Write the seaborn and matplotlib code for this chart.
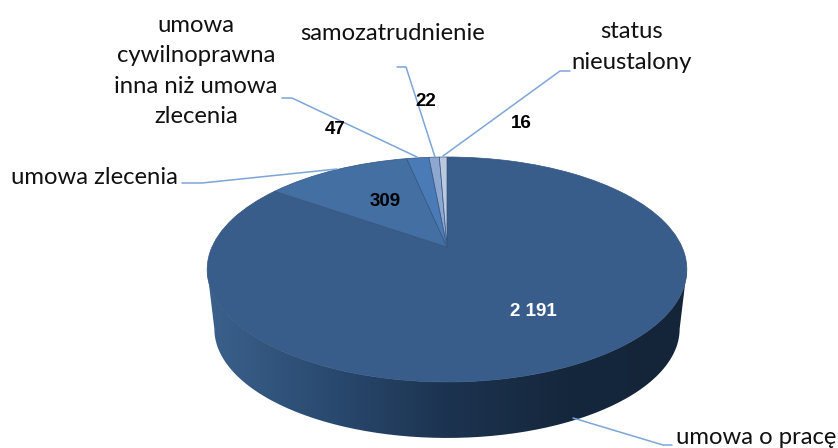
import numpy as np
import matplotlib
matplotlib.use("Agg")
import matplotlib.pyplot as plt
import seaborn as sns
from matplotlib.patches import PathPatch
from matplotlib.path import Path
from matplotlib.transforms import Transform

# Data

categories = ["umowa o pracę", "umowa zlecenia", "umowa cywilnoprawna inna niż umowa zlecenia",
              "samozatrudnienie", "status nieustalony"]
values = [2191, 309, 47, 22, 16]
slice_colors = ["#395d8a", "#436fa3", "#4a7bb6", "#8ea7d0", "#bcc8de"]

category_text = ["umowa o pracę", "umowa zlecenia", "umowa\ncywilnoprawna\ninna niż umowa\nzlecenia",
                 "samozatrudnienie", "status\nnieustalony"]
value_text = [f"{v:,}".replace(",", " ") for v in values]

wall_colors = ["#3b618c", "#2a4a70", "#1c3350", "#15273c", "#14253a"]
leader_color = "#7da6d8"

# Pixel positions on the 838x448 canvas

label_pos = [(756, 438), (94, 177), (196, 71), (393, 33), (632, 47)]
value_pos = [(533, 311), (385, 201), (335, 130), (426, 101), (521, 123)]
value_colors = ["white", "black", "black", "black", "black"]
leaders = [
    [(573, 418), (663, 445), (672, 445)],
    [(182, 183), (202, 183), (337, 169)],
    [(282, 98), (292, 98), (417, 157)],
    [(397, 67), (406, 67), (435, 157)],
    [(570, 71), (560, 71), (443, 156)],
]

APEX_X, APEX_Y = 447, 247
SCALE_X, SCALE_Y, TILT = 235, 108, 0.2
WALL_SCALE, WALL_DROP = 0.97, 60


# Unit circle pie -> tilted disc in pixels

def project(xy, scale=1.0, drop=0):
    x, y = xy[:, 0], xy[:, 1]
    w = 1 + TILT * y
    return np.column_stack([APEX_X + scale * SCALE_X * x / w,
                            APEX_Y + drop - scale * SCALE_Y * y / w])


class TiltedDisc(Transform):
    input_dims = 2
    output_dims = 2

    def transform_non_affine(self, values):
        return project(np.asarray(values))


sns.set_theme(style="white")
plt.rcParams["font.family"] = ["Lato", "DejaVu Sans"]

fig = plt.figure(figsize=(8.38, 4.48), dpi=100)
ax = fig.add_axes([0, 0, 1, 1])

# Side wall, between the widest points of the top and bottom rims

t = np.linspace(np.arcsin(TILT), np.pi - np.arcsin(TILT), 200)
rim = np.column_stack([np.cos(t), -np.sin(t)])
outline = np.vstack([project(rim), project(rim[::-1], WALL_SCALE, WALL_DROP)])
wall_clip = PathPatch(Path(outline, closed=False), transform=ax.transData, fc="none", ec="none")
ax.add_patch(wall_clip)
wall_cmap = sns.blend_palette(wall_colors, as_cmap=True)
wall = ax.imshow(np.linspace(0, 1, 256).reshape(1, -1), cmap=wall_cmap, aspect="auto",
                 extent=(207, 687, 440, 260), interpolation="bilinear", zorder=1)
wall.set_clip_path(wall_clip)

# Top face

wedges, _ = ax.pie(values, colors=slice_colors, startangle=90, counterclock=False,
                   wedgeprops={"linewidth": 0.5, "edgecolor": "#33557f"})
disc = TiltedDisc() + ax.transData
for wedge in wedges:
    wedge.set_transform(disc)
    wedge.set_zorder(2)

ax.set_aspect("auto")
ax.set_xlim(0, 838)
ax.set_ylim(448, 0)
ax.axis("off")

for points in leaders:
    xs, ys = zip(*points)
    ax.plot(xs, ys, color=leader_color, lw=1.1, zorder=3, solid_joinstyle="round")

for text, (x, y) in zip(category_text, label_pos):
    ax.text(x, y, text, ha="center", va="center", fontsize=17.2, linespacing=1.53, color="#111111", zorder=4)

for text, (x, y), color in zip(value_text, value_pos, value_colors):
    ax.text(x, y, text, ha="center", va="center", fontsize=13.5, fontweight="bold",
            family=["Liberation Sans", "DejaVu Sans"], color=color, zorder=4)

fig.savefig("out.png", dpi=100)
